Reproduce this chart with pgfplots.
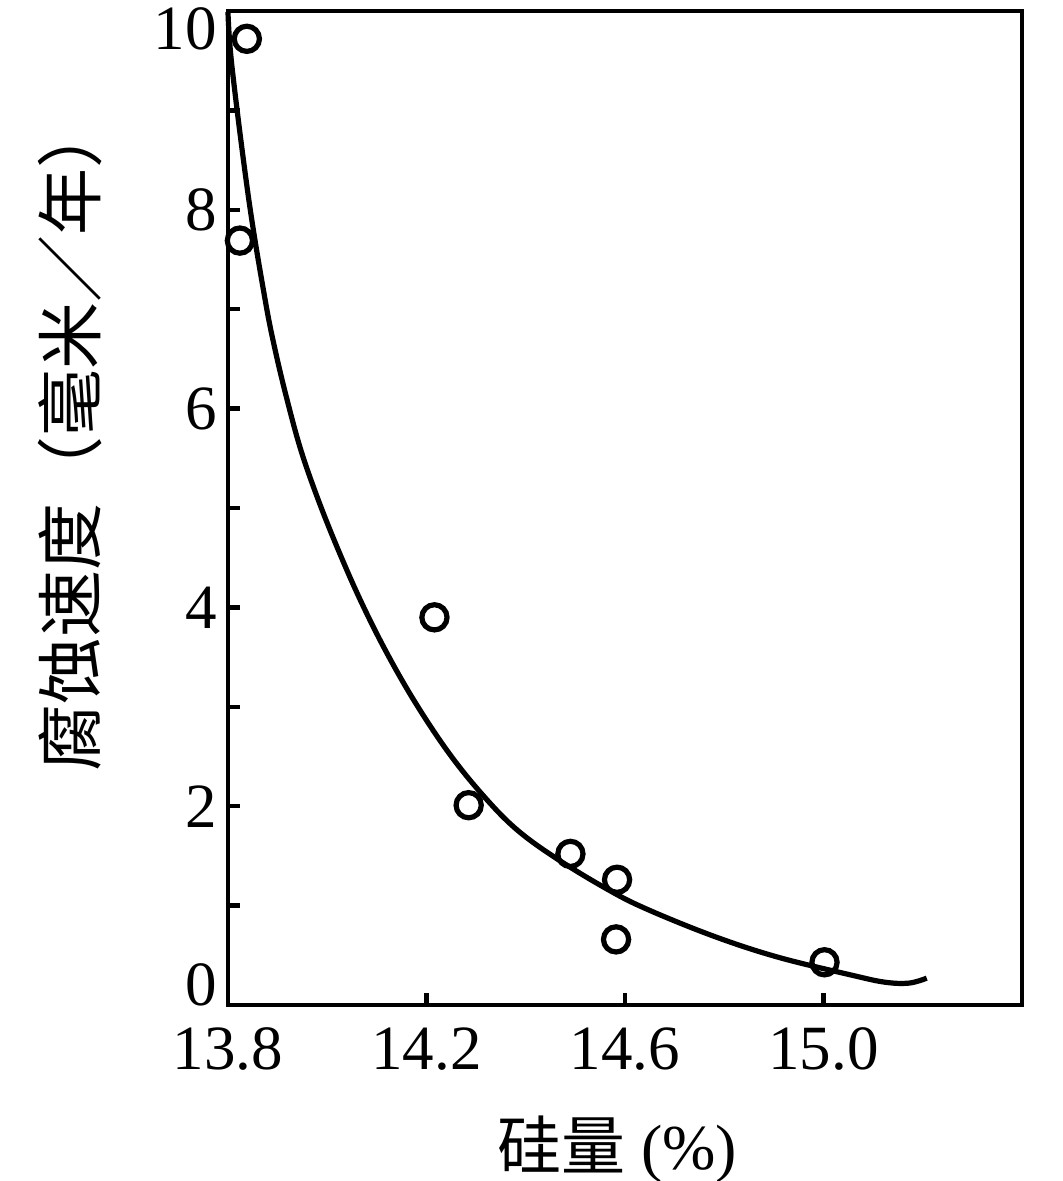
\documentclass[border=0pt]{standalone}
\usepackage{pgfplots}
\pgfplotsset{compat=1.18}
\usepackage{fontspec}
\setmainfont{Liberation Serif}
\newfontfamily\cjk{Noto Sans CJK SC}
\begin{document}
\begin{tikzpicture}
\path[use as bounding box] (-114pt,-88pt) rectangle (417.5pt,502.5pt);
\begin{axis}[
  at={(0,0)}, anchor=south west,
  scale only axis, width=397pt, height=497pt,
  xmin=13.8, xmax=15.4, ymin=0, ymax=10,
  axis line style={line width=2.2pt},
  xtick={13.8,14.2,14.6,15.0},
  xticklabels={13.8,14.2,14.6,15.0},
  ytick={0,1,2,3,4,5,6,7,8,9,10},
  yticklabels={\smash{0},,2,,4,,6,,8,,\smash{\raisebox{-19.5pt}{10}}},
  xtick pos=bottom, ytick pos=left,
  tick align=inside,
  major tick length=6pt,
  tick style={line width=2.2pt, black},
  /pgf/number format/assume math mode=true,
  ticklabel style={font=\fontsize{31.5}{34}\selectfont},
  xticklabel style={yshift=-8pt},
  yticklabel style={xshift=-2pt},
  xlabel={{\cjk 硅量} (\%)},
  ylabel={\cjk 腐蚀速度（毫米／年）},
  every axis x label/.style={at={(rel axis cs:0.49,0)}, anchor=center, yshift=-72pt, font=\fontsize{32}{36}\selectfont},
  every axis y label/.style={at={(rel axis cs:0,0.572)}, rotate=90, anchor=center, yshift=79pt, font=\fontsize{33.5}{36}\selectfont},
  clip=false,
]
\addplot[black, line width=2.6pt, smooth, tension=0.6] coordinates {
 (13.800,9.99) (13.808,9.44) (13.842,8.10) (13.875,7.09) (13.895,6.59)
 (13.919,6.09) (13.947,5.58) (13.982,5.08) (14.022,4.58) (14.067,4.07)
 (14.117,3.57) (14.174,3.07) (14.240,2.57) (14.305,2.16) (14.376,1.79)
 (14.457,1.49) (14.566,1.16) (14.646,0.96) (14.780,0.69) (14.909,0.48)
 (15.057,0.30) (15.123,0.23) (15.172,0.22) (15.208,0.27)
};
\addplot[only marks, mark=o, mark size=6.3pt, black, mark options={line width=2.6pt}] coordinates {
 (13.838,9.72) (13.824,7.69) (14.216,3.90) (14.285,2.01)
 (14.490,1.52) (14.584,1.26) (14.582,0.66) (15.002,0.43)
};
\end{axis}
\end{tikzpicture}
\end{document}
